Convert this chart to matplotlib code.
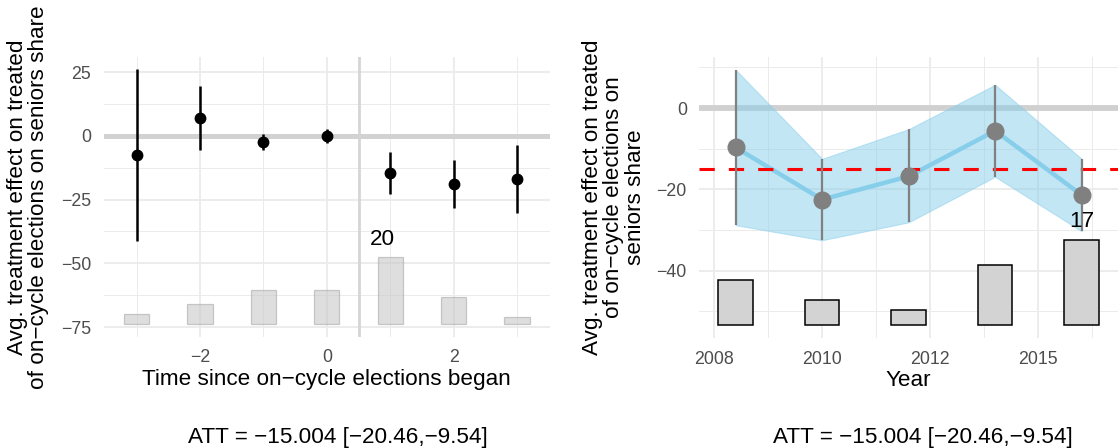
import matplotlib
matplotlib.use("Agg")
import matplotlib.pyplot as plt
import numpy as np
from matplotlib.ticker import FixedLocator, FormatStrFormatter, NullFormatter

plt.rcParams['font.family'] = ['Liberation Sans', 'DejaVu Sans']
plt.rcParams['axes.unicode_minus'] = True

# ---------------- data ----------------
# Left panel: effects by time since on-cycle elections began
rel_time = [-3, -2, -1, 0, 1, 2, 3]
att_rel = [-7.6, 7.1, -2.4, 0.0, -14.6, -18.8, -17.0]
ci_low_rel = [-41.1, -5.6, -5.4, -2.8, -22.7, -28.4, -30.2]
ci_high_rel = [26.1, 19.7, 0.7, 2.8, -6.5, -9.3, -3.7]
n_treated_rel = [3, 6, 10, 10, 20, 8, 2]

# Right panel: effects by calendar year
years = [2008, 2010, 2012, 2014, 2016]
att_year = [-9.7, -22.5, -16.8, -5.6, -21.4]
ci_low_year = [-28.8, -32.5, -28.1, -16.9, -30.3]
ci_high_year = [9.4, -12.5, -5.2, 5.7, -12.5]
n_treated_year = [9, 5, 3, 12, 17]

att_overall = -15.004
att_ci = [-20.46, -9.54]

left_xticks = [-2, 0, 2]
left_yticks = [-75, -50, -25, 0, 25]
right_xticks = [2007.5, 2010, 2012.5, 2015]
right_yticks = [-40, -20, 0]

ylabel_left = "Avg. treatment effect on treated\nof on\u2212cycle elections on seniors share"
ylabel_right = "Avg. treatment effect on treated\nof on\u2212cycle elections on\nseniors share"
xlabel_left = "Time since on\u2212cycle elections began"
xlabel_right = "Year"

# ---------------- style ----------------
W, H = 1120, 448
FS_TITLE = 16.2
FS_TICK = 12.8
GRID = '#EBEBEB'
TICKCOL = '#4D4D4D'

fig = plt.figure(figsize=(W / 100, H / 100), dpi=100)


def px_axes(x0, y0, x1, y1):
    return fig.add_axes([x0 / W, 1 - y1 / H, (x1 - x0) / W, (y1 - y0) / H])


def style_axes(ax, xmaj, xmin, ymaj, ymin):
    for s in ax.spines.values():
        s.set_visible(False)
    ax.xaxis.set_major_locator(FixedLocator(xmaj))
    ax.xaxis.set_minor_locator(FixedLocator(xmin))
    ax.yaxis.set_major_locator(FixedLocator(ymaj))
    ax.yaxis.set_minor_locator(FixedLocator(ymin))
    ax.xaxis.set_minor_formatter(NullFormatter())
    ax.yaxis.set_minor_formatter(NullFormatter())
    ax.tick_params(which='both', length=0)
    ax.tick_params(which='major', labelsize=FS_TICK, labelcolor=TICKCOL, pad=9)
    ax.grid(which='major', color=GRID, lw=1.3, zorder=0)
    ax.grid(which='minor', color=GRID, lw=0.7, zorder=0)
    ax.set_axisbelow(True)


def limits(lo, hi, mult=0.05):
    r = hi - lo
    return lo - mult * r, hi + mult * r


# ---------------- left panel ----------------
axL = px_axes(103.6, 56.7, 550, 336.7)
base_L = -73.8
maxh_L = 26.4
nL = np.array(n_treated_rel, dtype=float)
hL = nL / nL.max() * maxh_L
axL.bar(rel_time, hL, bottom=base_L, width=0.4, color='#c8c8c8', alpha=0.6,
        edgecolor='#a8a8a8', linewidth=0.9, zorder=2)
imax = int(np.argmax(nL))
axL.annotate(str(int(nL[imax])), (rel_time[imax] - 0.12, base_L + hL[imax]),
             xytext=(0, 5), textcoords='offset points', ha='center', va='bottom',
             fontsize=FS_TITLE, color='black', zorder=6)
axL.axhline(0, color='#d2d2d2', lw=3.6, zorder=1)
axL.axvline(0.5, color='#d5d5d5', lw=2.0, zorder=1)
axL.vlines(rel_time, ci_low_rel, ci_high_rel, color='black', lw=1.8, zorder=4)
axL.plot(rel_time, att_rel, 'o', color='black', ms=7.5, zorder=5)
style_axes(axL, left_xticks, [-3, -1, 1, 3], left_yticks, [-62.5, -37.5, -12.5, 12.5])
axL.set_xlim(*limits(min(rel_time) - 0.2, max(rel_time) + 0.2))
axL.set_ylim(*limits(base_L, max(ci_high_rel)))
axL.set_xlabel(xlabel_left, fontsize=FS_TITLE, labelpad=2)

# ---------------- right panel ----------------
axR = px_axes(699.3, 57, 1118, 338)
base_R = -53.4
maxh_R = 20.9
nR = np.array(n_treated_year, dtype=float)
hR = nR / nR.max() * maxh_R
axR.axhline(0, color='#d0d0d0', lw=4.2, zorder=1)
axR.fill_between(years, ci_low_year, ci_high_year, facecolor='#87CEEB', alpha=0.5,
                 edgecolor='#87CEEB', linewidth=0.8, zorder=2)
axR.plot(years, att_year, color='#87CEEB', lw=3.2, zorder=3, solid_capstyle='butt')
axR.axhline(att_overall, color='#FF0000', lw=2.2, ls=(0, (5, 4.6)), zorder=3.5)
axR.bar(years, hR, bottom=base_R, width=0.8, color='#D3D3D3', edgecolor='black',
        linewidth=1.1, zorder=2.5)
axR.vlines(years, ci_low_year, ci_high_year, color='#808080', lw=1.6, zorder=4)
axR.plot(years, att_year, 'o', color='#808080', ms=12, zorder=5)
jmax = int(np.argmax(nR))
axR.annotate(str(int(nR[jmax])), (years[jmax], base_R + hR[jmax]),
             xytext=(0, 6), textcoords='offset points', ha='center', va='bottom',
             fontsize=FS_TITLE, color='black', zorder=6)
style_axes(axR, right_xticks, [2008.75, 2011.25, 2013.75, 2016.25], right_yticks,
           [-50, -30, -10, 10])
axR.xaxis.set_major_formatter(FormatStrFormatter('%.0f'))
axR.set_xlim(*limits(min(years) - 0.4, max(years) + 0.4))
axR.set_ylim(*limits(base_R, max(ci_high_year)))
axR.set_xlabel(xlabel_right, fontsize=FS_TITLE, labelpad=2)

# ---------------- titles / captions ----------------
fig.text(27.9 / W, 1 - 197 / H, ylabel_left, rotation=90, ha='center', va='center',
         fontsize=FS_TITLE, linespacing=1.0, multialignment='center')
fig.text(614 / W, 1 - 197 / H, ylabel_right, rotation=90, ha='center', va='center',
         fontsize=FS_TITLE, linespacing=1.02, multialignment='center')
cap = "ATT = %.3f [%.2f,%.2f]" % (att_overall, att_ci[0], att_ci[1])
cap = cap.replace('-', '\u2212')
fig.text(337.5 / W, 1 - 443.3 / H, cap, ha='center', va='baseline', fontsize=FS_TITLE)
fig.text(922.5 / W, 1 - 443.3 / H, cap, ha='center', va='baseline', fontsize=FS_TITLE)

fig.savefig('out.png', dpi=100, facecolor='white')
